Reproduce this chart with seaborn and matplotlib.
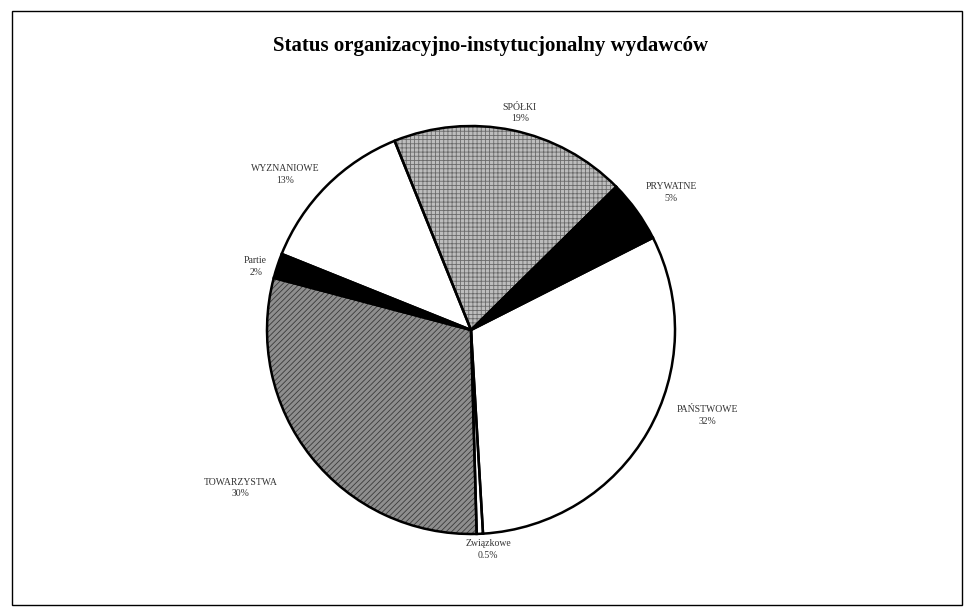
import matplotlib
matplotlib.use("Agg")
import matplotlib.pyplot as plt
import numpy as np
import seaborn as sns
from matplotlib.patches import Rectangle

sns.set_theme(style="white")
plt.rcParams["font.family"] = ["Liberation Serif", "DejaVu Serif"]

# Publisher status shares (percent), clockwise from the top
categories = ["SPÓŁKI", "PRYWATNE", "PAŃSTWOWE", "Związkowe", "TOWARZYSTWA", "Partie", "WYZNANIOWE"]
shares = [19, 5, 32, 0.5, 30, 2, 13]
share_labels = ["19%", "5%", "32%", "0.5%", "30%", "2%", "13%"]

fills = ["#bdbdbd", "#000000", "#ffffff", "#ffffff", "#8e8e8e", "#000000", "#ffffff"]
hatches = ["++++", None, None, None, "//////", None, None]
hatch_colors = ["#6a6a6a", "black", "black", "black", "#3a3a3a", "black", "black"]
label_dist = [1.09, 1.19, 1.23, 1.08, 1.37, 1.10, 1.19]
label_shift = [1, 1.3, -10, -2, 4, -2, -5]  # degrees, clockwise

fig = plt.figure(figsize=(9.75, 6.15), dpi=100)
fig.patch.set_facecolor("white")

# outer frame
fig.add_artist(Rectangle((12 / 975, 10 / 615), 950 / 975, 594 / 615,
                         transform=fig.transFigure, fill=False,
                         edgecolor="black", linewidth=1.0))

fig.text(0.503, 0.925, "Status organizacyjno-instytucjonalny wydawców",
         ha="center", va="center", fontsize=15, fontweight="bold", color="black")

R_px = 204
w = R_px * 3.2 / 975
h = R_px * 3.2 / 615
cx, cy = 471 / 975, (615 - 330) / 615
ax = fig.add_axes([cx - w / 2, cy - h / 2, w, h])

plt.rcParams["hatch.linewidth"] = 0.6
# filled, textured wedges
wedges, _ = ax.pie(shares, colors=fills, startangle=112, counterclock=False,
                   radius=1.0, wedgeprops=dict(linewidth=0))
for wdg, hatch, hc in zip(wedges, hatches, hatch_colors):
    if hatch:
        wdg.set_hatch(hatch)
        wdg.set_edgecolor(hc)
# black outlines on top
ax.pie(shares, startangle=112, counterclock=False, radius=1.0,
       wedgeprops=dict(facecolor="none", edgecolor="black", linewidth=1.8))

ax.set_xlim(-1.6, 1.6)
ax.set_ylim(-1.6, 1.6)
ax.set_aspect("equal")
ax.axis("off")

for wdg, name, lab, d, s in zip(wedges, categories, share_labels, label_dist, label_shift):
    mid = np.deg2rad((wdg.theta1 + wdg.theta2) / 2 - s)
    x, y = d * np.cos(mid), d * np.sin(mid)
    ax.text(x, y, f"{name}\n{lab}", ha="center", va="center",
            fontsize=7, color="#333333", linespacing=1.4)

fig.savefig("out.png", dpi=100, facecolor="white")
